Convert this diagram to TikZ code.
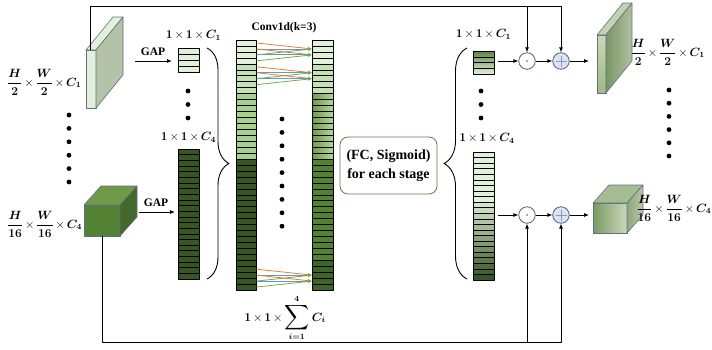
\documentclass[tikz,border=0pt]{standalone}
\usepackage{amsmath}
\usepackage{bm}
\usepackage{graphicx}
\usepackage{fontspec}
\setmainfont{Liberation Serif}
\usetikzlibrary{arrows.meta,decorations.pathreplacing,calc}
\newcommand{\mx}{\mathbin{\mkern-1.5mu\mbox{\unboldmath$\times$}\mkern-1.5mu}}
\newcommand{\bigsum}{\mathop{\vcenter{\hbox{\scalebox{1.45}{$\displaystyle\sum$}}}}\limits}
\definecolor{c1}{HTML}{E2EFDA}
\definecolor{c2}{HTML}{C5E0B4}
\definecolor{c3}{HTML}{A9D18E}
\definecolor{c4}{HTML}{375623}
\definecolor{cmed}{HTML}{548235}
\definecolor{cdark}{HTML}{3F6428}
\definecolor{c3a}{HTML}{6F9A4C}
\definecolor{c3b}{HTML}{B3D69A}
\definecolor{opc}{HTML}{4A5E78}
\definecolor{plusfill}{HTML}{DCE3F2}
\definecolor{plusln}{HTML}{8A9AB0}
\definecolor{boxc}{HTML}{5E7D45}
\definecolor{edgec}{HTML}{5F7080}
\definecolor{orng}{HTML}{ED7D31}
\definecolor{blu}{HTML}{5B9BD5}
\definecolor{grn}{HTML}{70AD47}
\definecolor{lsside}{HTML}{B4C3A7}
\definecolor{lctop}{HTML}{6F9A48}
\definecolor{lcside}{HTML}{44692C}
\definecolor{rvtop}{HTML}{5E8345}
\definecolor{rsf1}{HTML}{C9D9B7}
\definecolor{rsf2}{HTML}{9FB987}
\definecolor{rstop}{HTML}{C3D3B2}
\definecolor{rss1}{HTML}{7A9566}
\definecolor{rss2}{HTML}{AFC19D}
\definecolor{rcf1}{HTML}{789A60}
\definecolor{rcf2}{HTML}{CBD8BC}
\definecolor{rctop}{HTML}{A6BC92}
\definecolor{rcs1}{HTML}{8FA77C}
\definecolor{rcs2}{HTML}{B8C7AA}
\begin{document}
\begin{tikzpicture}[x=1pt,y=-1pt,line join=round,
  conn/.style={line width=0.8pt,black},
  arr/.style={conn,-{Latex[length=5pt,width=4pt]}},
  carr/.style={line width=0.8pt,-{Latex[length=4pt,width=3.5pt]}},
  cellline/.style={line width=0.5pt,black},
  boxedge/.style={draw=edgec,line width=0.6pt},
  lbl/.style={font=\fontsize{12}{14}\selectfont\boldmath,inner sep=0pt},
  txt/.style={font=\fontsize{11.5}{13}\selectfont\bfseries,inner sep=0pt},
  opdot/.style={circle,draw=opc,line width=0.8pt,fill=white,minimum size=16.5pt,inner sep=0pt},
  opplus/.style={opdot,fill=plusfill},
  fcbox/.style={draw=boxc,line width=0.8pt,rounded corners=8pt,minimum width=97pt,minimum height=57pt,align=center,font=\fontsize{14}{19.5}\selectfont\bfseries,inner sep=0pt},
  brc/.style={line width=0.9pt,decorate},
  vecnode/.style={inner sep=0pt,minimum width=21pt}]
\useasboundingbox (0,0) rectangle (712,349);

% ---------- left slab (stage 1 input)
\draw[boxedge,fill=c1] (86,50) rectangle (96,108);
\draw[boxedge,fill=c1] (86,50) -- ++(27,-33) -- ++(10,0) -- (96,50) -- cycle;
\draw[boxedge,fill=lsside] (96,50) -- ++(27,-33) -- ++(0,58) -- (96,108) -- cycle;
\coordinate (lslabT) at (90,50);

% ---------- left cube (stage 4 input)
\draw[boxedge,fill=cmed] (84,205) rectangle (120,236);
\draw[boxedge,fill=lctop] (84,205) -- ++(17,-19) -- ++(36,0) -- (120,205) -- cycle;
\draw[boxedge,fill=lcside] (120,205) -- ++(17,-19) -- ++(0,31) -- (120,236) -- cycle;
\coordinate (lcubeB) at (102,236);

% ---------- labels left
\node[lbl,anchor=west] (lab1) at (7,82) {$\dfrac{H}{2}\mx\dfrac{W}{2}\mx C_1$};
\node[lbl,anchor=west] (lab4) at (7,224) {$\dfrac{H}{16}\mx\dfrac{W}{16}\mx C_4$};
\foreach \k in {0,...,5} \fill (69,{115+13.4*\k}) circle (2.4pt);

% ---------- GAP
\coordinate (gapA0) at (135,61); \coordinate (gapA1) at (172,61);
\coordinate (gapB0) at (139,212); \coordinate (gapB1) at (175,212);
\draw[arr] (gapA0) -- (gapA1);
\draw[arr] (gapB0) -- (gapB1);
\node[txt] (gapAt) at (153,52) {GAP};
\node[txt] (gapBt) at (156,203) {GAP};

% ---------- left pooled vectors
\node[vecnode,minimum height=24pt] (lC1) at (188.5,60) {};
\foreach \i in {1,...,4}
  \draw[cellline,fill=c1] (178,{48+(\i-1)*6}) rectangle (199,{48+\i*6});
\node[vecnode,minimum height=130pt] (lC4) at (188.5,214) {};
\foreach \i in {1,...,23}
  \draw[cellline,fill=c4] (178,{149+(\i-1)*130/23}) rectangle (199,{149+\i*130/23});
\node[lbl] (llC1) at (193.5,35) {$1\mx1\mx C_1$};
\node[lbl] (llC4) at (188.5,137) {$1\mx1\mx C_4$};
\foreach \y in {91,104.5,118} \fill (188,\y) circle (2.4pt);

% ---------- left brace
\draw[brc,decoration={brace,amplitude=22pt}] (207,48) -- (207,279);

% ---------- concatenated column 1
\foreach \i in {1,...,42}{
  \pgfmathsetmacro{\ya}{40+(\i-1)*250/42}
  \pgfmathsetmacro{\yb}{40+\i*250/42}
  \ifnum\i<5 \def\cc{c1}\else\ifnum\i<10 \def\cc{c2}\else\ifnum\i<21 \def\cc{c3}\else\def\cc{c4}\fi\fi\fi
  \draw[cellline,fill=\cc] (236,\ya) rectangle (256,\yb);
}
\node[inner sep=0pt,minimum width=20pt,minimum height=250pt] (col1) at (246,165) {};

% ---------- column 2 (after conv1d)
\foreach \i in {1,...,42}{
  \pgfmathsetmacro{\ya}{40+(\i-1)*250/42}
  \pgfmathsetmacro{\yb}{40+\i*250/42}
  \ifnum\i<5 \draw[cellline,fill=c1] (312,\ya) rectangle (333,\yb);
  \else\ifnum\i<10 \draw[cellline,fill=c2] (312,\ya) rectangle (333,\yb);
  \else\ifnum\i<21 \draw[cellline,left color=c3a,right color=c3b] (312,\ya) rectangle (333,\yb);
  \else\ifnum\i<38 \draw[cellline,fill=cmed] (312,\ya) rectangle (333,\yb);
  \else \draw[cellline,fill=cdark] (312,\ya) rectangle (333,\yb);
  \fi\fi\fi\fi
}
\node[inner sep=0pt,minimum width=21pt,minimum height=250pt] (col2) at (322.5,165) {};

% ---------- conv1d arrows
\foreach \k in {2,3,6,7,40,41}{
  \pgfmathsetmacro{\yt}{40+(\k-0.5)*250/42}
  \pgfmathsetmacro{\yo}{\yt-250/42}
  \pgfmathsetmacro{\yg}{\yt+250/42}
  \draw[carr,orng] (256.5,\yo) -- (312,\yt);
  \draw[carr,blu] (256.5,\yt) -- (312,\yt);
  \draw[carr,grn] (256.5,\yg) -- (312,\yt);
}
\node[txt] (convt) at (284,28) {Conv1d(k=3)};
\foreach \k in {0,...,8} \fill (282,{119+13.4*\k}) circle (2.4pt);
\node[lbl] (sumlbl) at (285,318) {$1\mx1\mx\bigsum_{i=1}^{4}C_i$};

% ---------- FC box
\node[fcbox] (fc) at (388.5,165.5) {(FC, Sigmoid)\\for each stage};

% ---------- right brace
\draw[brc,decoration={brace,amplitude=23pt}] (467,279) -- (467,48);

% ---------- right weight vectors
\node[vecnode,minimum height=23pt,draw=black,line width=0.5pt,top color=rvtop,bottom color=c1] (rC1) at (483.5,62.5) {};
\foreach \i in {1,...,3} \draw[cellline] (473,{51+\i*23/4}) -- (494,{51+\i*23/4});
\foreach \i in {1,...,23}{
  \pgfmathsetmacro{\ya}{152+(\i-1)*128/23}
  \pgfmathsetmacro{\yb}{152+\i*128/23}
  \pgfmathtruncatemacro{\p}{max(0,min(100,(\i-9)*100/14))}
  \draw[cellline,fill=c4!\p!c1] (473,\ya) rectangle (494,\yb);
}
\node[vecnode,minimum height=128pt] (rC4) at (483.5,216) {};
\node[lbl] (rlC1) at (483.5,34) {$1\mx1\mx C_1$};
\node[lbl] (rlC4) at (487,138) {$1\mx1\mx C_4$};
\foreach \y in {91,104.5,118} \fill (481,\y) circle (2.4pt);

% ---------- operators
\node[opdot] (dotA) at (527,61) {};
\node[opplus] (plusA) at (561,61) {};
\node[opdot] (dotB) at (527,215) {};
\node[opplus] (plusB) at (561,215) {};
\foreach \n in {dotA,dotB} \fill[opc] (\n) circle (0.9pt);
\foreach \n in {plusA,plusB}{
  \draw[plusln,line width=0.6pt] ($(\n)+(-5.5,0)$) -- ($(\n)+(5.5,0)$);
  \draw[plusln,line width=0.6pt] ($(\n)+(0,-5.5)$) -- ($(\n)+(0,5.5)$);
}
\draw[arr] ($(rC1.east |- dotA)+(4,0)$) -- (dotA);
\draw[arr] ($(rC4.east |- dotB)+(4,0)$) -- (dotB);
\draw[arr] (dotA) -- (plusA);
\draw[arr] (dotB) -- (plusB);
\coordinate (outA) at (589,61);
\coordinate (outB) at (589,215);
\draw[arr] (plusA) -- (outA);
\draw[arr] (plusB) -- (outB);

% ---------- skip connections
\coordinate (topY) at (0,6);
\coordinate (botY) at (0,342);
\draw[arr] (lslabT) -- (lslabT |- topY) -| (plusA);
\draw[arr] (dotA |- topY) -- (dotA);
\draw[arr] (lcubeB) -- (lcubeB |- botY) -| (plusB);
\draw[arr] (dotB |- botY) -- (dotB);

% ---------- right slab (output stage 1)
\draw[boxedge,top color=rsf1,bottom color=rsf2] (597,35) rectangle (606,93);
\draw[boxedge,fill=rstop] (597,35) -- ++(26,-32) -- ++(9,0) -- (606,35) -- cycle;
\draw[boxedge,left color=rss1,right color=rss2] (606,35) -- ++(26,-32) -- ++(0,58) -- (606,93) -- cycle;

% ---------- right cube (output stage 4)
\draw[boxedge,left color=rcf1,right color=rcf2] (593,203) rectangle (627,233);
\draw[boxedge,fill=rctop] (593,203) -- ++(16,-18) -- ++(34,0) -- (627,203) -- cycle;
\draw[boxedge,left color=rcs1,right color=rcs2] (627,203) -- ++(16,-18) -- ++(0,30) -- (627,233) -- cycle;

% ---------- labels right
\node[lbl,anchor=east] (rlab1) at (705,52) {$\dfrac{H}{2}\mx\dfrac{W}{2}\mx C_1$};
\node[lbl,anchor=east] (rlab4) at (711.5,208) {$\dfrac{H}{16}\mx\dfrac{W}{16}\mx C_4$};
\foreach \k in {0,...,5} \fill (669,{90+13.2*\k}) circle (2.4pt);
\end{tikzpicture}
\end{document}
